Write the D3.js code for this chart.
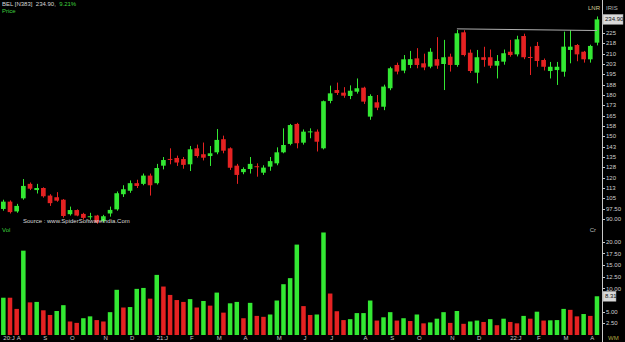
<!DOCTYPE html>
<html><head><meta charset="utf-8">
<script src="https://cdn.jsdelivr.net/npm/d3@7"></script>
<style>
html, body { margin: 0; padding: 0; background: #000; }
svg { display: block; font-family: "Liberation Sans", Arial, sans-serif; }
</style></head>
<body>
<svg id="chart"></svg>
<script>
const width = 625, height = 342;

// weekly OHLC, BEL, Jul 2020 .. Apr 2022
const opens = [97.3, 102.6, 95.5, 105, 115.5, 111, 112.5, 107, 105.8, 104, 93.5, 96.5, 93.7, 91.3, 92.5, 88.5, 94, 97, 108, 110.5,
  116, 115.5, 121.5, 116, 128.7, 133.6, 134.3, 133.5, 129.7, 141.3, 137, 135.7, 138.4, 147.9, 141.3, 128.7, 124, 126.3, 128.3, 123.6,
  128, 130.4, 138.4, 144.5, 159, 145.4, 153.2, 153.4, 141.3, 175.7, 183.6, 181.7, 179.3, 182.4, 185.3, 164.3, 174.7, 171.5, 184.9, 201.8,
  197.7, 201.8, 206.6, 203, 200.6, 206, 202.5, 207.8, 201.8, 225.5, 210.7, 196.2, 207.4, 207.4, 201.3, 204.2, 211.4, 209.5, 222.8, 207.6,
  215.6, 205.4, 197.4, 198.1, 196.9, 212.7, 216.3, 211.4, 205.9, 218];
const highs = [104, 103.5, 101, 119, 116.5, 115.5, 113, 108, 109.5, 104.5, 99, 97, 94.5, 94.5, 93, 93, 99, 110, 114.5, 118,
  118.5, 123, 123, 130, 135, 141.3, 136, 135, 143, 144, 145.5, 143, 155.3, 150.5, 142, 130, 127.5, 135, 130.4, 129,
  135, 142, 155.8, 159, 159.8, 155, 155.8, 155, 176, 186.8, 189, 185.7, 187, 192, 186, 180.5, 180, 187.5, 200.5, 203.5,
  209, 212, 214, 210, 214, 222, 220, 210, 227.2, 227, 213, 212.7, 215, 213, 209, 213, 220, 223, 224.5, 215.1,
  218.5, 206.5, 204, 204, 226, 227, 217, 212, 216.5, 237];
const lows = [96, 94, 94.5, 104, 111, 108.5, 105.5, 99.5, 102.5, 91, 92.5, 92, 89.5, 89.5, 86.5, 87.5, 91.7, 96, 106, 109,
  112.5, 114.5, 107, 115, 126, 129.7, 128.5, 126.5, 124.8, 134.5, 132.5, 128.5, 137, 137.7, 125.6, 115.5, 122.5, 123, 120.7, 122,
  125, 129, 137.7, 143.5, 141.3, 144, 148.6, 139, 140.5, 174, 180, 178, 177, 181, 173.5, 162, 169, 169, 183.5, 195,
  195.8, 199.5, 199.4, 198, 199.4, 199, 183.6, 197, 200.5, 208, 196, 188.5, 200.5, 199.5, 192, 202, 207.8, 208, 206, 194.5,
  200.5, 197.8, 192, 187.3, 193.3, 203, 204.5, 203.5, 203.5, 216];
const closes = [102.6, 95, 99.5, 114, 112, 112.5, 106.5, 101.5, 103.3, 92.2, 96.5, 92.5, 90.8, 92, 87.5, 92, 96.6, 108.7, 111.6, 116,
  114, 121.5, 114.5, 127, 132.8, 133.2, 131, 129.3, 140.6, 135.7, 134.5, 137.7, 147.4, 139.6, 127.2, 122, 126.3, 130, 127.9, 127.3,
  132, 138.4, 143.7, 158.2, 145, 153.4, 153.6, 146.1, 175.5, 181.2, 181.5, 179.5, 183.1, 184.9, 175.2, 179.3, 170.8, 186.1, 199.4, 197,
  205.9, 206, 201.8, 200, 211.4, 201.3, 207.4, 201.8, 224.8, 209, 197.4, 207.4, 205.5, 201.3, 204.7, 210.3, 209, 220.4, 207.4, 207.2,
  204.7, 200.5, 200.5, 200.5, 215.1, 215.1, 209.5, 205.9, 215.6, 234.9];
// volume in crores, and its bar colour (1 = up)
const volumes = [8.0, 8.0, 5.6, 18.1, 7.0, 7.1, 5.3, 4.3, 5.15, 6.4, 2.9, 2.6, 3.6, 4.0, 3.2, 2.9, 4.9, 9.7, 5.9, 6.0,
  9.9, 10.1, 7.8, 12.9, 10.4, 8.6, 7.5, 7.1, 7.7, 5.9, 7.3, 6.3, 9.1, 4.8, 6.8, 7.1, 3.6, 6.9, 4.1, 3.9,
  4.4, 7.4, 10.9, 12.2, 19.4, 6.2, 4.3, 4.4, 22.0, 8.9, 5.1, 3.2, 3.4, 4.7, 4.7, 7.4, 3.1, 3.8, 4.9, 3.1,
  3.6, 3.0, 4.4, 2.5, 2.7, 3.5, 4.9, 2.6, 5.15, 2.4, 2.9, 3.1, 2.8, 3.4, 2.1, 3.5, 2.8, 2.5, 4.1, 3.5,
  5.0, 3.1, 3.15, 3.2, 5.6, 5.4, 4.0, 4.5, 4.1, 8.31];
const volUp = [1, 0, 0, 1, 0, 1, 0, 0, 1, 1, 0, 0, 1, 1, 0, 0, 1, 1, 0, 1,
  1, 1, 0, 1, 0, 0, 0, 0, 1, 0, 1, 0, 1, 0, 1, 1, 0, 1, 0, 0,
  1, 1, 1, 1, 1, 0, 0, 1, 1, 0, 0, 0, 1, 1, 1, 1, 0, 1, 1, 0,
  1, 0, 1, 0, 1, 1, 1, 0, 1, 0, 1, 1, 0, 1, 0, 1, 0, 0, 1, 0,
  1, 0, 1, 1, 1, 0, 0, 1, 0, 1];

const priceTicks = d3.range(90, 233, 7.5);
const volTicks = [2.5, 5, 7.5, 10, 12.5, 15, 17.5, 20];
const lastPrice = 234.90, lastVol = 8.31, changePct = "9.21%";
const trend = [{ i: 68, p: 228.0 }, { i: 89, p: 226.8 }];

const green = "#33e833", red = "#e52222";
const axisX = 602;

const weeks = d3.timeFriday.range(new Date(2020, 6, 24), new Date(2022, 3, 9));

const svg = d3.select("#chart").attr("width", width).attr("height", height);
svg.append("rect").attr("width", width).attr("height", height).attr("fill", "#000");

const x = d3.scaleBand().domain(d3.range(weeks.length)).range([0, 600.3])
  .paddingInner(0.3).paddingOuter(0.15);
const y = d3.scaleLinear().domain([90, 225]).range([219, 33]);
const vy = d3.scaleLinear().domain([0, 20]).range([335, 241.8]);
const cx = i => x(i) + x.bandwidth() / 2;

// candles
const candles = svg.append("g");
weeks.forEach((w, i) => {
  const col = closes[i] >= opens[i] ? green : red;
  candles.append("line")
    .attr("x1", Math.round(cx(i)) + 0.5).attr("x2", Math.round(cx(i)) + 0.5)
    .attr("y1", y(highs[i])).attr("y2", y(lows[i]))
    .attr("stroke", col).attr("stroke-width", 1);
  const top = y(Math.max(opens[i], closes[i])), bot = y(Math.min(opens[i], closes[i]));
  candles.append("rect")
    .attr("x", x(i)).attr("width", x.bandwidth())
    .attr("y", top).attr("height", Math.max(1, bot - top))
    .attr("fill", col);
});

// volume bars
const vw = 4.5;
svg.append("g").selectAll("rect")
  .data(volumes)
  .join("rect")
  .attr("x", (d, i) => cx(i) - vw / 2)
  .attr("width", vw)
  .attr("y", d => vy(d))
  .attr("height", d => vy(0) - vy(d))
  .attr("fill", (d, i) => volUp[i] ? green : red);

// trend line
svg.append("line")
  .attr("x1", cx(trend[0].i)).attr("y1", y(trend[0].p))
  .attr("x2", cx(trend[1].i)).attr("y2", y(trend[1].p))
  .attr("stroke", "#b0b0b0").attr("stroke-width", 1);

// right axis line
svg.append("line")
  .attr("x1", axisX + 0.5).attr("x2", axisX + 0.5).attr("y1", 0).attr("y2", height)
  .attr("stroke", "#c8c8c8");

const fmtPrice = v => v < 100 ? v.toFixed(2) : String(Math.round(v));
const tickGroup = svg.append("g").attr("font-size", 6).attr("fill", "#cfcfcf");

priceTicks.filter(v => Math.abs(y(v) - y(lastPrice)) > 8).forEach(v => {
  tickGroup.append("line").attr("x1", axisX).attr("x2", axisX + 3)
    .attr("y1", Math.round(y(v)) + 0.5).attr("y2", Math.round(y(v)) + 0.5).attr("stroke", "#c8c8c8");
  tickGroup.append("text").attr("x", axisX + 4).attr("y", y(v)).attr("dy", "0.35em").text(fmtPrice(v));
});
volTicks.filter(v => Math.abs(vy(v) - vy(lastVol)) > 7).forEach(v => {
  tickGroup.append("line").attr("x1", axisX).attr("x2", axisX + 3)
    .attr("y1", Math.round(vy(v)) + 0.5).attr("y2", Math.round(vy(v)) + 0.5).attr("stroke", "#c8c8c8");
  tickGroup.append("text").attr("x", axisX + 4).attr("y", vy(v)).attr("dy", "0.35em").text(v.toFixed(2));
});

// boxed last values
function boxLabel(yy, txt, w) {
  svg.append("rect").attr("x", axisX + 1).attr("y", yy - 5).attr("width", w).attr("height", 10)
    .attr("fill", "#d9d9d9").attr("stroke", "#9a9a9a").attr("stroke-width", 0.5);
  svg.append("text").attr("x", axisX + 3).attr("y", yy).attr("dy", "0.35em")
    .attr("font-size", 6).attr("fill", "#111").text(txt);
}
boxLabel(y(lastPrice), lastPrice.toFixed(2), 20);
boxLabel(vy(lastVol), lastVol.toFixed(2), 13);

// month labels
const fmtMon = d3.timeFormat("%b");
const monthStarts = weeks.map((w, i) => ({ w, i }))
  .filter(({ w, i }) => i === 0 || w.getMonth() !== weeks[i - 1].getMonth());
svg.append("g").attr("font-size", 6).attr("fill", "#c8c8c8")
  .selectAll("text").data(monthStarts).join("text")
  .attr("x", d => cx(d.i))
  .attr("y", 340)
  .text(d => (d.i === 0 || d.w.getMonth() === 0 ? d3.timeFormat("%y")(d.w) + ":" : "") + fmtMon(d.w)[0]);

// header texts
const hdr = svg.append("text").attr("x", 2).attr("y", 6).attr("font-size", 6).attr("xml:space", "preserve");
hdr.append("tspan").attr("fill", "#d8d8d8").text("BEL [N383]  " + lastPrice.toFixed(2) + ",  ");
hdr.append("tspan").attr("fill", "#3fd23f").text(changePct);
svg.append("text").attr("x", 2).attr("y", 12.5).attr("font-size", 6).attr("fill", "#3fd23f").text("Price");
svg.append("text").attr("x", 2).attr("y", 232).attr("font-size", 6).attr("fill", "#3fd23f").text("Vol");
svg.append("text").attr("x", 596).attr("y", 232).attr("font-size", 6).attr("fill", "#bdbdbd")
  .attr("text-anchor", "end").text("Cr");
svg.append("text").attr("x", 600).attr("y", 10).attr("font-size", 6).attr("fill", "#d6cf9a")
  .attr("text-anchor", "end").text("LNR");
svg.append("text").attr("x", 606).attr("y", 10).attr("font-size", 6).attr("fill", "#b5b5b5").text("IRIS");
svg.append("text").attr("x", 608).attr("y", 340).attr("font-size", 6).attr("fill", "#b3a640").text("WM");
svg.append("text").attr("x", 23).attr("y", 223).attr("font-size", 6).attr("fill", "#dcdcdc")
  .text("Source : www.SpiderSoftwareIndia.Com");
</script>
</body></html>
